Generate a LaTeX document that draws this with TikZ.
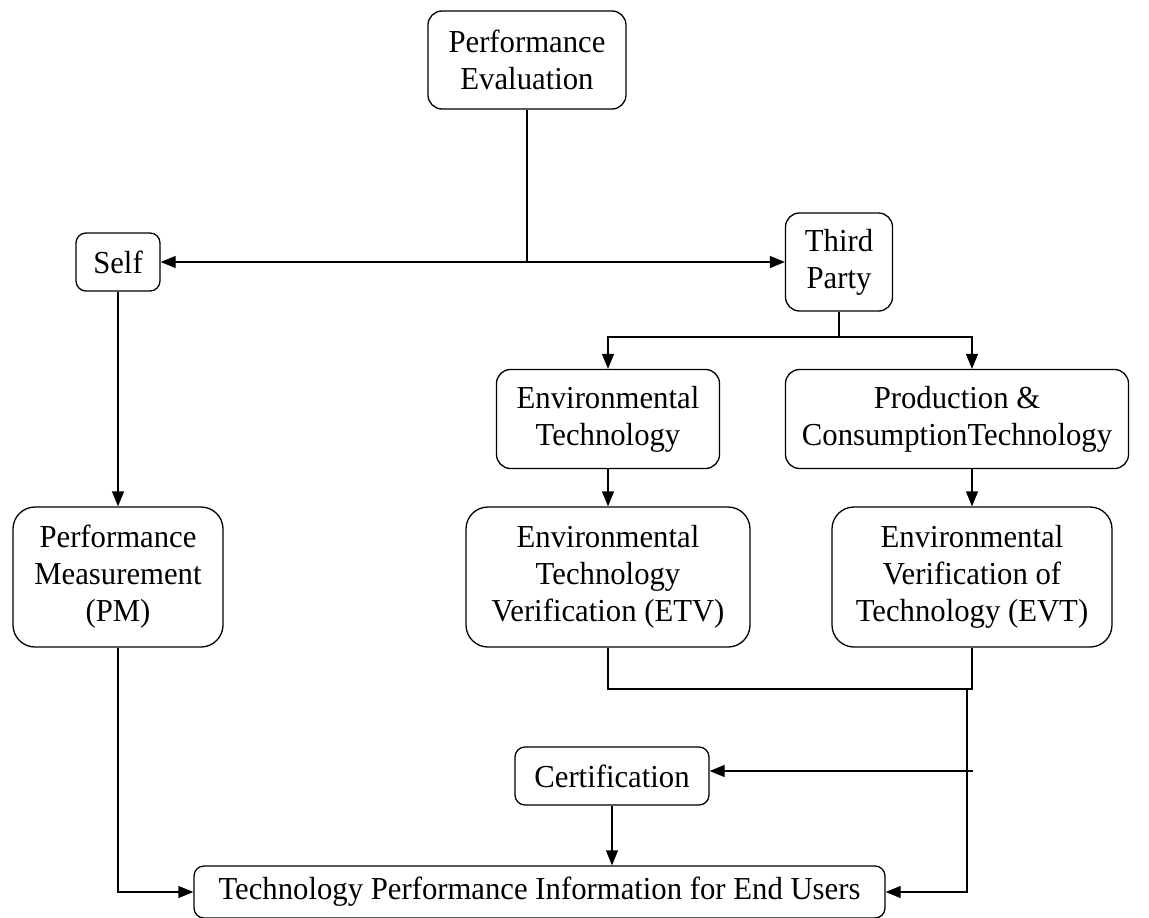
\documentclass[tikz,border=0pt]{standalone}
\usepackage{fontspec}
\setmainfont[FakeStretch=0.96]{Liberation Serif}
\usetikzlibrary{arrows.meta,calc}
\begin{document}
\begin{tikzpicture}[x=1pt,y=-1pt,
  box/.style={draw,line width=1.3pt,rounded corners=#1,align=center,inner sep=0pt,
    font=\fontsize{32}{37}\selectfont},
  box/.default=14pt,
  wire/.style={line width=1.3pt},
  tri/.style={-{Triangle[length=15pt,width=12pt]}}]
\useasboundingbox (0,0) rectangle (1149,918);

% boxes
\node[box,minimum width=198pt,minimum height=98pt] (pe) at (527,60) {Performance\\Evaluation};
\node[box=10pt,minimum width=84pt,minimum height=58pt] (self) at (118,262) {Self};
\node[box,minimum width=107pt,minimum height=98pt] (third) at (839,262) {Third\\Party};
\node[box,minimum width=223pt,minimum height=99pt] (et) at (608,419) {Environmental\\Technology};
\node[box,minimum width=343pt,minimum height=99pt] (pc) at (957,419) {Production \&\\ConsumptionTechnology};
\node[box=22pt,minimum width=210pt,minimum height=140pt] (pm) at (118,577) {Performance\\Measurement\\(PM)};
\node[box=22pt,minimum width=284pt,minimum height=140pt] (etv) at (608,577) {Environmental\\Technology\\Verification (ETV)};
\node[box=22pt,minimum width=280pt,minimum height=140pt] (evt) at (972,577) {Environmental\\Verification of\\Technology (EVT)};
\node[box=10pt,minimum width=194pt,minimum height=58pt] (cert) at (612,776) {Certification};
\node[box=10pt,minimum width=691pt,minimum height=52pt] (users) at (539.5,892) {Technology Performance Information for End Users};

% junction points
\coordinate (split) at (pe.south |- self.east);
\coordinate (tp) at (839,337);
\coordinate (merge) at (967,689);
\coordinate (tap) at (973,771);

% connectors
\draw[wire] (pe.south) -- (split);
\draw[wire,tri] (split) -- (self.east);
\draw[wire,tri] (split) -- (third.west);
\draw[wire] (third.south) -- (tp);
\draw[wire,tri] (tp) -| (et.north);
\draw[wire,tri] (tp) -| (evt.north |- pc.north);
\draw[wire,tri] (et.south) -- (etv.north);
\draw[wire,tri] (evt.north |- pc.south) -- (evt.north);
\draw[wire,tri] (self.south) -- (self.south |- pm.north);
\draw[wire] (etv.south) |- (merge) -| (evt.south);
\draw[wire,tri] (merge) |- (users.east);
\draw[wire,tri] (tap) -- (tap -| cert.east);
\draw[wire,tri] (cert.south) -- (cert.south |- users.north);
\draw[wire,tri] (pm.south) |- (users.west);
\end{tikzpicture}
\end{document}
